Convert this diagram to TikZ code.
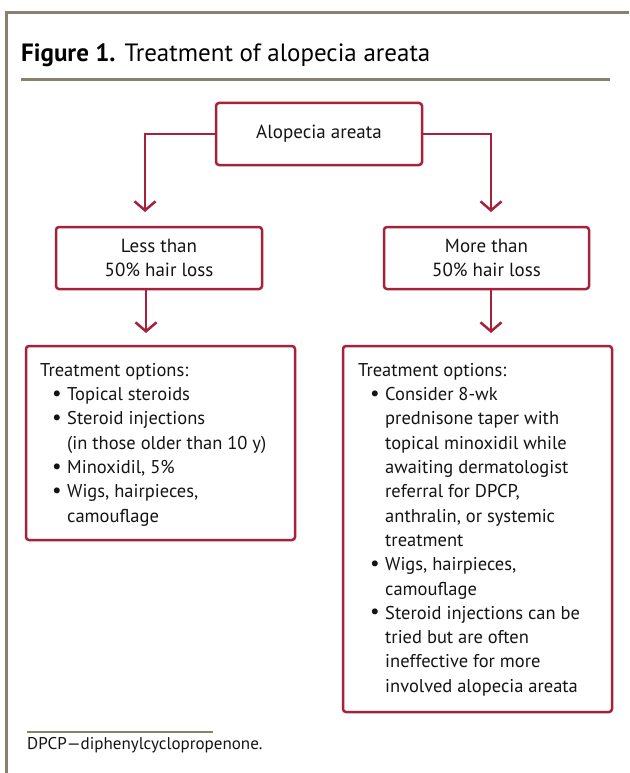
\documentclass[tikz,border=0pt]{standalone}
\usepackage{fontspec}
\setmainfont{PT Sans}
\usetikzlibrary{arrows.meta}
\definecolor{aared}{RGB}{166,33,58}
\definecolor{aagray}{RGB}{138,128,112}
\definecolor{aatext}{RGB}{20,20,20}
\newcommand\bl{\hspace*{12pt}\makebox[15pt][l]{\raisebox{0.5pt}{\scalebox{1.15}{\textbullet}}}}
\newcommand\ct{\hspace*{27pt}}
\begin{document}
\begin{tikzpicture}[x=1pt,y=-1pt,
  box/.style={draw=aared,line width=2.5pt,rounded corners=3pt,inner sep=0pt,
    text=aatext,font=\fontsize{19}{23.5}\selectfont,align=center},
  conn/.style={draw=aared,line width=2.5pt,-{Straight Barb[length=9pt,width=21pt,line width=2.5pt]}},
  body/.style={text=aatext,inner sep=0pt,align=left,anchor=north west,
    font=\fontsize{18.5}{24.3}\selectfont},
  frame/.style={draw=aagray,line width=3pt}]
\useasboundingbox (0,0) rectangle (629,773);
% frame
\draw[frame] (629,13) -- (6.5,13) -- (6.5,773);
\node[anchor=base west,inner sep=0pt,text=black,font=\fontsize{25}{28}\selectfont] (title) at (21,62)
  {\textbf{Figure 1.} Treatment of alopecia areata};
\draw[frame] (21,79.5) -- (610,79.5);
% boxes
\node[box,minimum width=206pt,minimum height=62pt] (top) at (319,134) {Alopecia areata};
\node[box,minimum width=206pt,minimum height=62pt] (less) at (159,258) {Less than\\50\% hair loss};
\node[box,minimum width=205pt,minimum height=62pt] (more) at (486.5,258) {More than\\50\% hair loss};
\node[box,minimum width=269pt,minimum height=194pt] (lopt) at (160.5,443) {};
\node[box,minimum width=269pt,minimum height=366pt] (ropt) at (477.5,529) {};
% connectors
\coordinate (lt) at (145,212);
\coordinate (rt) at (491,212);
\draw[conn] (top.west) -| (lt);
\draw[conn] (top.east) -| (rt);
\coordinate (lb) at (146,333);
\coordinate (rb) at (491,333);
\draw[conn] (less.south -| lb) -- (lb);
\draw[conn] (more.south -| rb) -- (rb);
% texts
\node[body] (ltext) at (40,363) {Treatment options:\\
\bl Topical steroids\\
\bl Steroid injections\\
\ct (in those older than 10 y)\\
\bl Minoxidil, 5\%\\
\bl Wigs, hairpieces,\\
\ct camouflage};
\node[body] (rtext) at (358,363) {Treatment options:\\
\bl Consider 8-wk\\
\ct prednisone taper with\\
\ct topical minoxidil while\\
\ct awaiting dermatologist\\
\ct referral for DPCP,\\
\ct anthralin, or systemic\\
\ct treatment\\
\bl Wigs, hairpieces,\\
\ct camouflage\\
\bl Steroid injections can be\\
\ct tried but are often\\
\ct ineffective for more\\
\ct involved alopecia areata};
% footnote
\draw[draw=aagray,line width=1.5pt] (27,732) -- (213,732);
\node[anchor=base west,inner sep=0pt,text=aatext,font=\fontsize{17}{20}\selectfont] (foot) at (27,749)
  {DPCP—diphenylcyclopropenone.};
\end{tikzpicture}
\end{document}
